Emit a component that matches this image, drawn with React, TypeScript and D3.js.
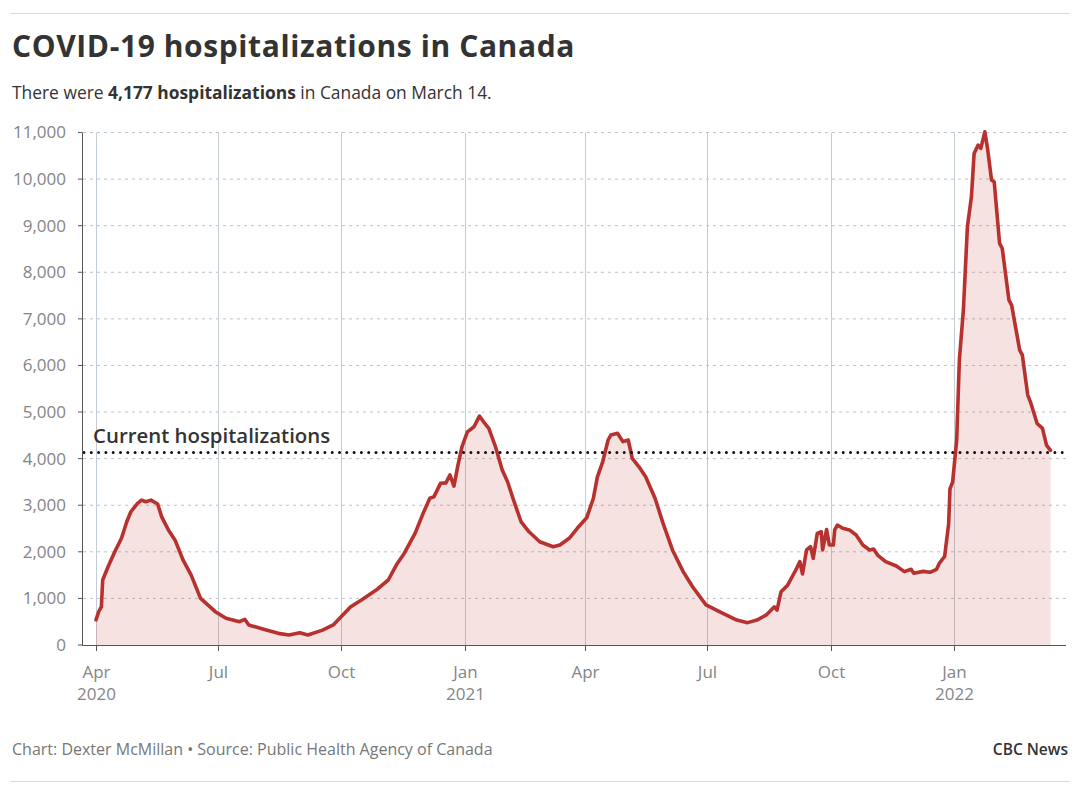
import React from "react";
import * as d3 from "d3";

// Daily hospitalizations at irregular intervals
const dates2020 = [
  "2020-04-01", "2020-04-03", "2020-04-05", "2020-04-06", "2020-04-10", "2020-04-15", "2020-04-20",
  "2020-04-24", "2020-04-27", "2020-05-02", "2020-05-05", "2020-05-08", "2020-05-12", "2020-05-17",
  "2020-05-20", "2020-05-25", "2020-05-30", "2020-06-05", "2020-06-11", "2020-06-18", "2020-06-29",
  "2020-07-07", "2020-07-17", "2020-07-21", "2020-07-24", "2020-08-06", "2020-08-15", "2020-08-23",
  "2020-08-31", "2020-09-06", "2020-09-17", "2020-09-25", "2020-10-01", "2020-10-08", "2020-10-16",
  "2020-10-27", "2020-11-05", "2020-11-11", "2020-11-17", "2020-11-25", "2020-12-01", "2020-12-06",
  "2020-12-09", "2020-12-14", "2020-12-18", "2020-12-21", "2020-12-24", "2020-12-27", "2020-12-30",
];
const values2020 = [
  540, 715, 820, 1395, 1680, 2000, 2290,
  2650, 2860, 3040, 3110, 3075, 3110, 3025,
  2750, 2470, 2250, 1820, 1500, 1000, 715,
  575, 500, 550, 430, 320, 250, 215,
  265, 215, 320, 430, 610, 820, 965,
  1180, 1395, 1715, 1970, 2395, 2825, 3150,
  3180, 3470, 3480, 3650, 3410, 3860, 4255,
];

const dates2021 = [
  "2021-01-03", "2021-01-08", "2021-01-12", "2021-01-16", "2021-01-19", "2021-01-24", "2021-01-29",
  "2021-02-02", "2021-02-06", "2021-02-12", "2021-02-18", "2021-02-26", "2021-03-08", "2021-03-13",
  "2021-03-20", "2021-03-26", "2021-04-02", "2021-04-07", "2021-04-10", "2021-04-14", "2021-04-18",
  "2021-04-20", "2021-04-25", "2021-04-29", "2021-05-03", "2021-05-06", "2021-05-11", "2021-05-16",
  "2021-05-23", "2021-05-29", "2021-06-05", "2021-06-13", "2021-06-20", "2021-06-30", "2021-07-10",
  "2021-07-23", "2021-07-31", "2021-08-07", "2021-08-14", "2021-08-20", "2021-08-22", "2021-08-25",
  "2021-08-30", "2021-09-05", "2021-09-08", "2021-09-10", "2021-09-13", "2021-09-16", "2021-09-18",
  "2021-09-21", "2021-09-24", "2021-09-25", "2021-09-28", "2021-09-30", "2021-10-03", "2021-10-04",
  "2021-10-06", "2021-10-10", "2021-10-15", "2021-10-20", "2021-10-25", "2021-10-30", "2021-11-02",
  "2021-11-05", "2021-11-11", "2021-11-19", "2021-11-25", "2021-11-30", "2021-12-02", "2021-12-09",
  "2021-12-14", "2021-12-19", "2021-12-21", "2021-12-25", "2021-12-28", "2021-12-29", "2021-12-31",
];
const values2021 = [
  4575, 4685, 4915, 4755, 4650, 4255, 3755,
  3505, 3150, 2650, 2430, 2215, 2110, 2145,
  2290, 2505, 2730, 3150, 3610, 3935, 4400,
  4505, 4545, 4365, 4400, 4005, 3825, 3610,
  3150, 2610, 2040, 1575, 1250, 860, 715,
  535, 480, 535, 645, 820, 750, 1145,
  1290, 1610, 1790, 1525, 2040, 2110, 1860,
  2395, 2430, 2040, 2480, 2145, 2145, 2470,
  2575, 2505, 2470, 2360, 2145, 2040, 2060,
  1930, 1790, 1695, 1575, 1625, 1540, 1580,
  1560, 1625, 1750, 1900, 2600, 3350, 3500,
];

const dates2022 = [
  "2022-01-03", "2022-01-05", "2022-01-08", "2022-01-11", "2022-01-14", "2022-01-16", "2022-01-19",
  "2022-01-21", "2022-01-24", "2022-01-26", "2022-01-29", "2022-01-31", "2022-02-04", "2022-02-06",
  "2022-02-11", "2022-02-13", "2022-02-19", "2022-02-21", "2022-02-25", "2022-02-27", "2022-03-04",
  "2022-03-08", "2022-03-11", "2022-03-14",
];
const values2022 = [
  4400, 6115, 7190, 8975, 9620, 10550, 10730,
  10660, 11015, 10660, 9980, 9940, 8620, 8510,
  7400, 7295, 6330, 6220, 5365, 5220, 4755,
  4650, 4290, 4177,
];

const currentValue = 4177;
const yTicks = [0, 1000, 2000, 3000, 4000, 5000, 6000, 7000, 8000, 9000, 10000, 11000];
const xTickDates = [
  "2020-04-01", "2020-07-01", "2020-10-01", "2021-01-01", "2021-04-01",
  "2021-07-01", "2021-10-01", "2022-01-01",
];

const parse = d3.timeParse("%Y-%m-%d");
const FONT = "'Open Sans', 'Noto Sans', sans-serif";

export default function App() {
  const width = 1080;
  const height = 793;
  const left = 82;
  const right = 1066;
  const top = 132.5;
  const bottom = 645;

  const data = [
    ...dates2020.map((d, i) => ({ date: parse(d), value: values2020[i] })),
    ...dates2021.map((d, i) => ({ date: parse(d), value: values2021[i] })),
    ...dates2022.map((d, i) => ({ date: parse(d), value: values2022[i] })),
  ];

  const x = d3
    .scaleTime()
    .domain([parse("2020-04-01"), parse("2022-01-01")])
    .range([96, 954]);
  const y = d3.scaleLinear().domain([0, 11000]).range([bottom, top]);

  const line = d3
    .line()
    .x((d) => x(d.date))
    .y((d) => y(d.value));
  const area = d3
    .area()
    .x((d) => x(d.date))
    .y0(y(0))
    .y1((d) => y(d.value));

  const fmt = d3.format(",");
  const ticks = xTickDates.map(parse);

  return (
    <svg
      width={width}
      height={height}
      style={{ position: "absolute", left: 0, top: 0, background: "#fff" }}
      fontFamily={FONT}
    >
      <line x1={10} x2={1070} y1={13.5} y2={13.5} stroke="#dcdcdc" />
      <text x={12} y={57} fontSize={30} fontWeight={700} fill="#333" letterSpacing={0.6}>
        COVID-19 hospitalizations in Canada
      </text>
      <text x={12} y={99} fontSize={17.4} fill="#333">
        There were <tspan fontWeight={700}>4,177 hospitalizations</tspan> in Canada on March 14.
      </text>

      {/* horizontal grid */}
      {yTicks.map((t) => (
        <line
          key={"h" + t}
          x1={left + 1}
          x2={right}
          y1={y(t)}
          y2={y(t)}
          stroke="#bcc3ca"
          strokeDasharray="3,4"
          display={t === 0 ? "none" : undefined}
        />
      ))}

      {/* vertical grid */}
      {ticks.map((t, i) => (
        <line
          key={"v" + i}
          x1={Math.round(x(t)) + 0.5}
          x2={Math.round(x(t)) + 0.5}
          y1={top}
          y2={bottom}
          stroke="#c3ccd4"
        />
      ))}

      <path d={area(data)} fill="#c0302e" fillOpacity={0.14} />
      <path
        d={line(data)}
        fill="none"
        stroke="#b7312f"
        strokeWidth={3.6}
        strokeLinejoin="round"
        strokeLinecap="round"
      />

      {/* current hospitalizations */}
      <line
        x1={left + 2}
        x2={right}
        y1={y(currentValue) + 2}
        y2={y(currentValue) + 2}
        stroke="#111"
        strokeWidth={3}
        strokeDasharray="0,7.3"
        strokeLinecap="round"
      />
      <text x={93} y={443} fontSize={20.4} fontWeight={600} fill="#333">
        Current hospitalizations
      </text>

      {/* y axis */}
      <line x1={left + 0.5} x2={left + 0.5} y1={top} y2={bottom} stroke="#555" />
      {yTicks.map((t) => (
        <g key={"yt" + t} transform={`translate(0,${y(t)})`}>
          <line x1={left - 4} x2={left} stroke="#555" />
          <text x={66} dy="0.35em" textAnchor="end" fontSize={17} fill="#858585">
            {fmt(t)}
          </text>
        </g>
      ))}

      {/* x axis */}
      <line x1={left} x2={right} y1={bottom + 0.5} y2={bottom + 0.5} stroke="#555" />
      {ticks.map((t, i) => (
        <g key={"xt" + i} transform={`translate(${Math.round(x(t)) + 0.5},${bottom})`}>
          <line y1={0} y2={6} stroke="#555" />
          <text y={33} textAnchor="middle" fontSize={17} fill="#858585">
            {d3.timeFormat("%b")(t)}
          </text>
          {(i === 0 || t.getMonth() === 0) && (
            <text y={55} textAnchor="middle" fontSize={17} fill="#858585">
              {d3.timeFormat("%Y")(t)}
            </text>
          )}
        </g>
      ))}

      <text x={12} y={755} fontSize={16} fill="#777">
        Chart: Dexter McMillan • Source: Public Health Agency of Canada
      </text>
      <text x={1068} y={755} fontSize={15.5} fontWeight={600} fill="#333" textAnchor="end">
        CBC News
      </text>
      <line x1={10} x2={1070} y1={781.5} y2={781.5} stroke="#dcdcdc" />
    </svg>
  );
}
